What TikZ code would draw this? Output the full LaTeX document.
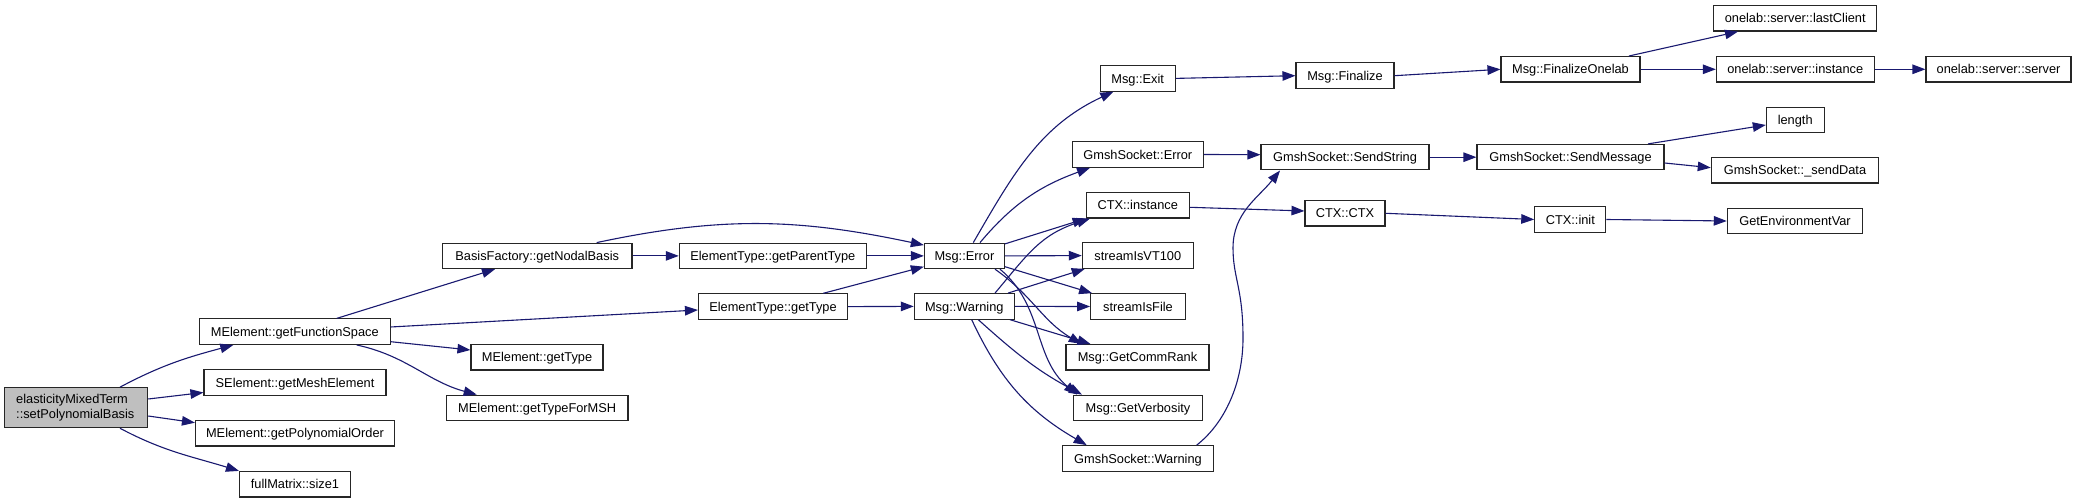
\documentclass[tikz,border=0pt]{standalone}
\usepackage{fontspec}
\setmainfont{Liberation Sans}
\usetikzlibrary{arrows.meta,calc}
\definecolor{edgeblue}{HTML}{191970}
\definecolor{rootgray}{HTML}{BFBFBF}
\begin{document}
\begin{tikzpicture}[x=1pt,y=1pt,
  box/.style={draw=black!85, line width=1.1pt, fill=white, inner sep=0pt,
    minimum height=25.5pt, font=\fontsize{12.8}{15}\selectfont},
  fn/.style={box, text height=12.4pt, text depth=3pt},
  call/.style={draw=edgeblue, line width=1.1pt, -{Triangle[length=13pt,width=9.5pt]}},
]
\path[fill=white, use as bounding box] (0,0) rectangle (2076,503);

% nodes
\node[box, fill=rootgray, minimum width=143pt, minimum height=40pt, text width=120pt,
      align=left, inner xsep=11.5pt] (root) at (76.2,95.3) {elasticityMixedTerm\\::setPolynomialBasis};
\node[fn, minimum width=190.5pt] (gfs) at (294.8,171.3) {MElement::getFunctionSpace};
\node[fn, minimum width=182pt]   (gme) at (295,120.5) {SElement::getMeshElement};
\node[fn, minimum width=199pt]   (gpo) at (295,69.7) {MElement::getPolynomialOrder};
\node[fn, minimum width=111pt]   (fms) at (295,18.8) {fullMatrix::size1};
\node[fn, minimum width=189.6pt] (bnb) at (537.2,247.1) {BasisFactory::getNodalBasis};
\node[fn, minimum width=132pt]   (mgt) at (537,145.7) {MElement::getType};
\node[fn, minimum width=181.6pt] (msh) at (537.2,95.1) {MElement::getTypeForMSH};
\node[fn, minimum width=187pt]   (gpt) at (772.8,247.1) {ElementType::getParentType};
\node[fn, minimum width=149pt]   (etg) at (773,196.4) {ElementType::getType};
\node[fn, minimum width=80pt]    (err) at (964.4,247.1) {Msg::Error};
\node[fn, minimum width=100pt]   (wrn) at (964.3,196.6) {Msg::Warning};
\node[fn, minimum width=75pt]    (ext) at (1137.7,424.6) {Msg::Exit};
\node[fn, minimum width=131pt]   (gse) at (1137.8,348.5) {GmshSocket::Error};
\node[fn, minimum width=103pt]   (cti) at (1137.7,297.7) {CTX::instance};
\node[fn, minimum width=111pt]   (vt)  at (1137.8,247.4) {streamIsVT100};
\node[fn, minimum width=94.7pt]  (sif) at (1138,196.5) {streamIsFile};
\node[fn, minimum width=143pt]   (gcr) at (1137.5,145.7) {Msg::GetCommRank};
\node[fn, minimum width=128.5pt] (gvb) at (1138,95.1) {Msg::GetVerbosity};
\node[fn, minimum width=151pt]   (gsw) at (1138,44.6) {GmshSocket::Warning};
\node[fn, minimum width=98pt]    (fin) at (1345,427.3) {Msg::Finalize};
\node[fn, minimum width=168pt]   (sst) at (1345,345.8) {GmshSocket::SendString};
\node[fn, minimum width=80pt]    (ctc) at (1345,289.7) {CTX::CTX};
\node[fn, minimum width=139pt]   (fol) at (1570.5,433.7) {Msg::FinalizeOnelab};
\node[fn, minimum width=187pt]   (ssm) at (1570.5,345.8) {GmshSocket::SendMessage};
\node[fn, minimum width=71pt]    (cin) at (1570.3,283.5) {CTX::init};
\node[fn, minimum width=163pt]   (lcl) at (1795.2,484.7) {onelab::server::lastClient};
\node[fn, minimum width=157.7pt] (osi) at (1795.2,433.7) {onelab::server::instance};
\node[fn, minimum width=57.7pt]  (len) at (1795.2,383) {length};
\node[fn, minimum width=167.4pt] (sd)  at (1795,332.7) {GmshSocket::\_sendData};
\node[fn, minimum width=135.4pt] (gev) at (1795,282) {GetEnvironmentVar};
\node[fn, minimum width=145pt]   (srv) at (1998.5,433.7) {onelab::server::server};

% edges from root
\draw[call] ($(root.north)+(43.8,0)$) to[out=28,in=195] ($(gfs.south)+(-61.5,0)$);
\draw[call] ($(root.east)+(0,8.7)$) -- ($(gme.west)+(0,-10)$);
\draw[call] ($(root.east)+(0,-8.3)$) -- ($(gpo.west)+(0,10.6)$);
\draw[call] ($(root.south)+(43.8,0)$) to[out=-28,in=163] (fms.north west);

% edges from getFunctionSpace
\draw[call] ($(gfs.north)+(41.9,0)$) -- ($(bnb.south)+(-42.2,0)$);
\draw[call] ($(gfs.east)+(0,4.7)$) -- ($(etg.west)+(0,-3.4)$);
\draw[call] ($(gfs.east)+(0,-10)$) -- ($(mgt.west)+(0,7.3)$);
\draw[call] ($(gfs.south)+(61.9,0)$) to[out=-12,in=165] ($(msh.north)+(-60.5,0)$);

% BasisFactory / ElementType
\draw[call] (bnb.east) -- (gpt.west);
\draw[call] ($(bnb.north)+(59.5,0)$) to[out=12,in=168] ($(err.north west)+(0,-2.5)$);
\draw[call] (gpt.east) -- (err.west);
\draw[call] ($(etg.north)+(50.3,0)$) -- ($(err.west)+(0,-10.8)$);
\draw[call] (etg.east) -- (wrn.west);

% Msg::Error
\draw[call] ($(err.north)+(8.9,0)$) to[out=60,in=205] ($(ext.south)+(-24.4,0)$);
\draw[call] ($(err.north)+(15.6,0)$) to[out=50,in=200] ($(gse.south)+(-47.8,0)$);
\draw[call] ($(err.east)+(0,12)$) -- (cti.south west);
\draw[call] (err.east) -- (vt.west);
\draw[call] ($(err.east)+(0,-10.8)$) -- ($(sif.north west)+(2,0)$);
\draw[call] ($(err.south)+(30.6,0)$) to[out=-35,in=150] ($(gcr.north)+(-55.8,0)$);
\draw[call] ($(err.south)+(35.6,0)$) to[out=-40,in=140] ($(gvb.north)+(-61,0)$);

% Msg::Warning
\draw[call] ($(wrn.north)+(30.7,0)$) to[out=50,in=198,looseness=1.1] ($(cti.south)+(-47.7,0)$);
\draw[call] ($(wrn.north)+(43.7,0)$) -- ($(vt.south west)+(3,0)$);
\draw[call] (wrn.east) -- (sif.west);
\draw[call] ($(wrn.south)+(45.7,0)$) -- ($(gcr.north)+(-47,0)$);
\draw[call] ($(wrn.south)+(14,0)$) to[out=-42,in=152] ($(gvb.north)+(-56,0)$);
\draw[call] ($(wrn.south)+(7.4,0)$) to[out=-65,in=150] ($(gsw.north)+(-51.3,0)$);

% right part
\draw[call] (ext.east) -- (fin.west);
\draw[call] (fin.east) -- (fol.west);
\draw[call] ($(fol.north)+(58.5,0)$) -- ($(lcl.south)+(-57.2,0)$);
\draw[call] (fol.east) -- (osi.west);
\draw[call] (osi.east) -- (srv.west);
\draw[call] (gse.east) -- ($(sst.west)+(0,2.5)$);
\draw[call] ($(gsw.north)+(58.7,0)$) .. controls (1225,80) and (1243,120) .. (1243,165)
   .. controls (1243,215) and (1233,225) .. (1233,255)
   .. controls (1233,290) and (1258,305) .. ($(sst.south)+(-65,0)$);
\draw[call] (sst.east) -- (ssm.west);
\draw[call] ($(ssm.north)+(77.5,0)$) -- ($(len.west)+(0,-5)$);
\draw[call] ($(ssm.east)+(0,-5.8)$) -- ($(sd.west)+(0,2.6)$);
\draw[call] ($(cti.east)+(0,-2)$) -- ($(ctc.west)+(0,2.3)$);
\draw[call] (ctc.east) -- (cin.west);
\draw[call] (cin.east) -- (gev.west);
\end{tikzpicture}
\end{document}
